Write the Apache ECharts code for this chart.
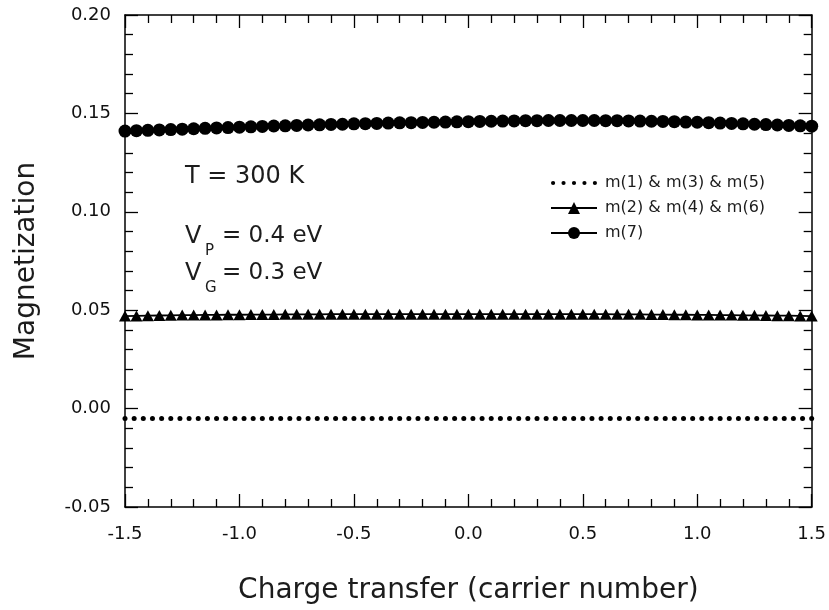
<!DOCTYPE html>
<html>
<head>
<meta charset="utf-8">
<script src="https://cdn.jsdelivr.net/npm/echarts@6/dist/echarts.min.js"></script>
<style>
  html, body { margin: 0; padding: 0; background: #fff; }
  #chart { width: 829px; height: 610px; }
</style>
</head>
<body>
<div id="chart"></div>
<script>
// x positions for triangles and circles
var xMain = [-1.5,-1.45,-1.4,-1.35,-1.3,-1.25,-1.2,-1.15,-1.1,-1.05,-1.0,-0.95,-0.9,-0.85,-0.8,-0.75,-0.7,-0.65,-0.6,-0.55,
  -0.5,-0.45,-0.4,-0.35,-0.3,-0.25,-0.2,-0.15,-0.1,-0.05,0,0.05,0.1,0.15,0.2,0.25,0.3,0.35,0.4,0.45,
  0.5,0.55,0.6,0.65,0.7,0.75,0.8,0.85,0.9,0.95,1.0,1.05,1.1,1.15,1.2,1.25,1.3,1.35,1.4,1.45,1.5];

// m(7)
var m7 = [0.1410,0.1412,0.1414,0.1416,0.1418,0.1420,0.1422,0.1424,0.1426,0.1428,
  0.1430,0.1432,0.1434,0.1436,0.1437,0.1439,0.1441,0.1442,0.1444,0.1445,
  0.1447,0.1448,0.1449,0.1451,0.1452,0.1453,0.1454,0.1455,0.1456,0.1457,
  0.1458,0.1459,0.1460,0.1461,0.1462,0.1463,0.1463,0.1464,0.1464,0.1464,
  0.1464,0.1464,0.1463,0.1463,0.1462,0.1461,0.1460,0.1459,0.1458,0.1456,
  0.1455,0.1453,0.1451,0.1449,0.1447,0.1445,0.1443,0.1441,0.1439,0.1437,0.1435];

// m(2) & m(4) & m(6)
var m2 = [0.0470,0.0471,0.0472,0.0473,0.0474,0.0475,0.0475,0.0476,0.0476,0.0477,
  0.0477,0.0478,0.0478,0.0478,0.0479,0.0479,0.0479,0.0479,0.0480,0.0480,
  0.0480,0.0480,0.0480,0.0480,0.0480,0.0480,0.0480,0.0480,0.0480,0.0480,
  0.0480,0.0480,0.0480,0.0480,0.0480,0.0480,0.0480,0.0480,0.0480,0.0480,
  0.0480,0.0480,0.0480,0.0479,0.0479,0.0479,0.0478,0.0478,0.0477,0.0477,
  0.0476,0.0476,0.0475,0.0475,0.0474,0.0474,0.0473,0.0472,0.0472,0.0471,0.0470];

// x positions for the dotted series
var xDots = [-1.5,-1.46,-1.42,-1.38,-1.34,-1.3,-1.26,-1.22,-1.18,-1.14,-1.1,-1.06,-1.02,-0.98,-0.94,-0.9,-0.86,-0.82,-0.78,
  -0.74,-0.7,-0.66,-0.62,-0.58,-0.54,-0.5,-0.46,-0.42,-0.38,-0.34,-0.3,-0.26,-0.22,-0.18,-0.14,-0.1,-0.06,-0.02,
  0.02,0.06,0.1,0.14,0.18,0.22,0.26,0.3,0.34,0.38,0.42,0.46,0.5,0.54,0.58,0.62,0.66,0.7,0.74,0.78,0.82,
  0.86,0.9,0.94,0.98,1.02,1.06,1.1,1.14,1.18,1.22,1.26,1.3,1.34,1.38,1.42,1.46,1.5];

// m(1) & m(3) & m(5)
var m1 = [-0.005,-0.005,-0.005,-0.005,-0.005,-0.005,-0.005,-0.005,-0.005,-0.005,-0.005,-0.005,-0.005,-0.005,-0.005,-0.005,-0.005,-0.005,-0.005,
  -0.005,-0.005,-0.005,-0.005,-0.005,-0.005,-0.005,-0.005,-0.005,-0.005,-0.005,-0.005,-0.005,-0.005,-0.005,-0.005,-0.005,-0.005,-0.005,
  -0.005,-0.005,-0.005,-0.005,-0.005,-0.005,-0.005,-0.005,-0.005,-0.005,-0.005,-0.005,-0.005,-0.005,-0.005,-0.005,-0.005,-0.005,-0.005,
  -0.005,-0.005,-0.005,-0.005,-0.005,-0.005,-0.005,-0.005,-0.005,-0.005,-0.005,-0.005,-0.005,-0.005,-0.005,-0.005,-0.005,-0.005,-0.005];

var seriesNames = ['m(1) & m(3) & m(5)', 'm(2) & m(4) & m(6)', 'm(7)'];

var FONT = 'DejaVu Sans';
var INK = '#1c1c1c';

function pairs(xs, ys) {
  return xs.map(function (x, i) { return [x, ys[i]]; });
}

// five small dots for the first legend entry
var dotsIcon = 'path://M0,2a2,2 0 1,0 4,0a2,2 0 1,0 -4,0z' +
  'M10,2a2,2 0 1,0 4,0a2,2 0 1,0 -4,0z' +
  'M20,2a2,2 0 1,0 4,0a2,2 0 1,0 -4,0z' +
  'M30,2a2,2 0 1,0 4,0a2,2 0 1,0 -4,0z' +
  'M40,2a2,2 0 1,0 4,0a2,2 0 1,0 -4,0z';

var axisLine = { show: true, onZero: false, lineStyle: { color: '#000', width: 1.5 } };
var tick = { show: true, inside: true, length: 13, lineStyle: { color: '#000', width: 1.3 } };
var minor = { show: true, splitNumber: 5, length: 8, lineStyle: { color: '#000', width: 1.3 } };

var chart = echarts.init(document.getElementById('chart'));

var option = {
  animation: false,
  backgroundColor: '#fff',
  grid: { left: 125, right: 17, top: 15, bottom: 102, containLabel: false },
  legend: {
    orient: 'vertical',
    left: 545,
    top: 170,
    itemWidth: 46,
    itemHeight: 15,
    itemGap: 9,
    textStyle: { fontFamily: FONT, fontSize: 16, color: INK, padding: [0, 0, 0, 3] },
    data: [
      { name: seriesNames[0], icon: dotsIcon },
      { name: seriesNames[1] },
      { name: seriesNames[2] }
    ]
  },
  xAxis: [
    {
      type: 'value', min: -1.5, max: 1.5, interval: 0.5,
      name: 'Charge transfer (carrier number)',
      nameLocation: 'middle', nameGap: 70,
      nameTextStyle: { fontFamily: FONT, fontSize: 28, color: INK },
      axisLine: axisLine, axisTick: tick, minorTick: minor,
      splitLine: { show: false },
      axisLabel: {
        margin: 18, fontFamily: FONT, fontSize: 18, color: '#111',
        formatter: function (v) { return v.toFixed(1); }
      }
    },
    {
      type: 'value', position: 'top', min: -1.5, max: 1.5, interval: 0.5,
      axisLine: axisLine, axisTick: tick, minorTick: minor,
      splitLine: { show: false }, axisLabel: { show: false }
    }
  ],
  yAxis: [
    {
      type: 'value', min: -0.05, max: 0.2, interval: 0.05,
      name: 'Magnetization',
      nameLocation: 'middle', nameGap: 84,
      nameTextStyle: { fontFamily: FONT, fontSize: 28, color: INK },
      axisLine: axisLine, axisTick: tick, minorTick: minor,
      splitLine: { show: false },
      axisLabel: {
        margin: 14, fontFamily: FONT, fontSize: 18, color: '#111',
        formatter: function (v) { return v.toFixed(2); }
      }
    },
    {
      type: 'value', position: 'right', min: -0.05, max: 0.2, interval: 0.05,
      axisLine: axisLine, axisTick: tick, minorTick: minor,
      splitLine: { show: false }, axisLabel: { show: false }
    }
  ],
  series: [
    {
      name: seriesNames[0], type: 'line',
      data: pairs(xDots, m1),
      symbol: 'circle', symbolSize: 5, showAllSymbol: true,
      itemStyle: { color: '#000' },
      lineStyle: { width: 0, opacity: 0 }
    },
    {
      name: seriesNames[1], type: 'line',
      data: pairs(xMain, m2),
      symbol: 'triangle', symbolSize: [12, 11], showAllSymbol: true,
      itemStyle: { color: '#000' },
      lineStyle: { color: '#000', width: 1.8 }
    },
    {
      name: seriesNames[2], type: 'line',
      data: pairs(xMain, m7),
      symbol: 'circle', symbolSize: 13, showAllSymbol: true,
      itemStyle: { color: '#000' },
      lineStyle: { color: '#000', width: 1.8 }
    }
  ],
  graphic: [
    { type: 'text', left: 185, top: 165, style: { text: 'T = 300 K', font: '24px "DejaVu Sans"', fill: INK } },
    { type: 'text', left: 185, top: 225, style: { text: 'V', font: '24px "DejaVu Sans"', fill: INK } },
    { type: 'text', left: 205, top: 244, style: { text: 'P', font: '15px "DejaVu Sans"', fill: INK } },
    { type: 'text', left: 222, top: 225, style: { text: '= 0.4 eV', font: '23px "DejaVu Sans"', fill: INK } },
    { type: 'text', left: 185, top: 262, style: { text: 'V', font: '24px "DejaVu Sans"', fill: INK } },
    { type: 'text', left: 205, top: 281, style: { text: 'G', font: '15px "DejaVu Sans"', fill: INK } },
    { type: 'text', left: 222, top: 262, style: { text: '= 0.3 eV', font: '23px "DejaVu Sans"', fill: INK } }
  ]
};

chart.setOption(option);
</script>
</body>
</html>
